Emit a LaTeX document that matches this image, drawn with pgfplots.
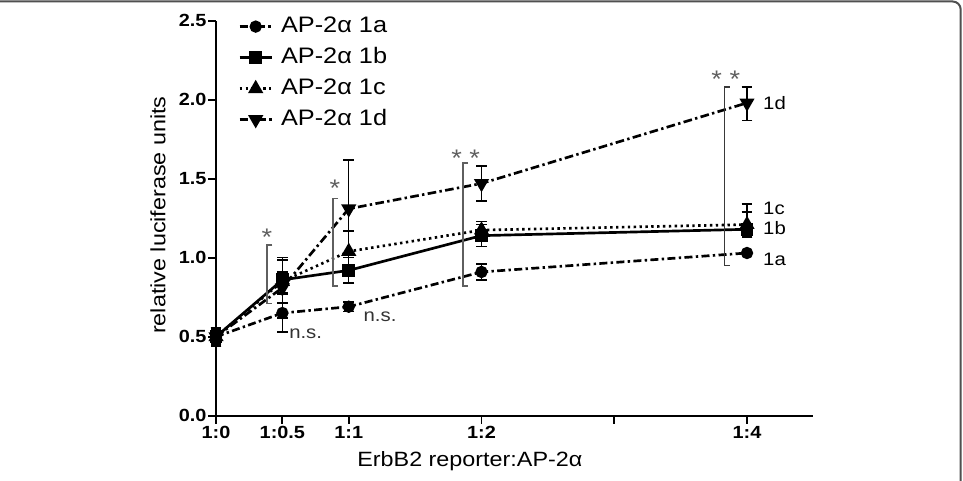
\documentclass[border=0pt]{standalone}
\usepackage{fontspec}
\setmainfont{Liberation Sans}[FakeStretch=1.13]
\usepackage{pgfplots}
\usepackage{pgfplotstable}
\pgfplotsset{compat=1.18}
\definecolor{annot}{RGB}{95,95,95}
\definecolor{frame}{RGB}{80,80,80}

\pgfplotstableread{
x y ep em
0 0.50 0.06 0.06
0.5 0.65 0.12 0.12
1 0.69 0.03 0.03
2 0.91 0.05 0.05
4 1.03 0.01 0.01
}\dataA
\pgfplotstableread{
x y ep em
0 0.50 0.05 0.05
0.5 0.86 0.05 0.08
1 0.92 0.08 0.08
2 1.14 0.07 0.07
4 1.18 0.11 0.05
}\dataB
\pgfplotstableread{
x y ep em
0 0.50 0.04 0.04
0.5 0.85 0.135 0.135
1 1.04 0.13 0.13
2 1.175 0.055 0.055
4 1.21 0.13 0.08
}\dataC
\pgfplotstableread{
x y ep em
0 0.50 0.06 0.06
0.5 0.81 0.19 0.19
1 1.31 0.31 0.31
2 1.47 0.11 0.11
4 1.98 0.10 0.11
}\dataD

\begin{document}
\begin{tikzpicture}
\path[use as bounding box] (0,0) rectangle (722.25pt,-360pt);
\begin{axis}[
  anchor=origin, at={(162pt,-311.8pt)},
  x=99.5625pt, y=118.5pt,
  xmin=0, xmax=4.5, ymin=0, ymax=2.5,
  enlargelimits=false,
  axis lines=left,
  axis line style={line width=1.4pt, -},
  every tick/.style={line width=1.4pt, black},
  tick align=outside,
  major tick length=6pt,
  xtick={0,0.5,1,2,3,4},
  xticklabels={1:0,1:0.5,1:1,1:2,,1:4},
  ytick={0,0.5,1,1.5,2,2.5},
  /pgf/number format/fixed, /pgf/number format/fixed zerofill,
  /pgf/number format/precision=1, /pgf/number format/assume math mode=true,
  ticklabel style={font=\fontsize{13.2pt}{15pt}\selectfont\bfseries},
  xticklabel style={inner sep=2pt},
  yticklabel style={inner sep=1pt},
  xlabel={ErbB2 reporter:AP-2α},
  ylabel={relative luciferase units},
  label style={font=\fontsize{15.5pt}{18pt}\selectfont},
  xlabel style={at={(axis description cs:0.425,-0.115)}, anchor=center},
  ylabel style={at={(axis description cs:-0.097,0.508)}, anchor=center},
  legend style={at={(rel axis cs:0.037,1.012)}, anchor=north west, draw=none, fill=none,
    font=\fontsize{16.8pt}{19pt}\selectfont, row sep=7.75pt, inner sep=0pt,
    nodes={inner sep=0pt, text height=12pt, text depth=3.5pt},
    /tikz/every odd column/.append style={column sep=6pt}},
  legend cell align=left,
  legend image code/.code={
    \draw[mark repeat=2, mark phase=2] plot coordinates {(0pt,0pt) (12pt,0pt) (24pt,0pt)};
  },
  error bars/y dir=both,
  error bars/y explicit,
  error bars/error bar style={line width=1.1pt, solid, black},
  error bars/error mark options={rotate=90, mark size=4pt, line width=1.1pt, solid, black},
  clip=false,
]
\addplot[black, line width=2pt, dash pattern=on 6pt off 2.5pt on 1.8pt off 2.5pt,
  mark=*, mark size=3.6pt, mark options={solid}]
  table[x=x, y=y, y error plus=ep, y error minus=em]{\dataA};
\addlegendentry{AP-2α 1a}
\addplot[black, line width=2pt, solid,
  mark=square*, mark size=3.8pt, mark options={solid}]
  table[x=x, y=y, y error plus=ep, y error minus=em]{\dataB};
\addlegendentry{AP-2α 1b}
\addplot[black, line width=2pt, dash pattern=on 1.8pt off 2.6pt,
  mark=triangle*, mark size=4.6pt, mark options={solid}]
  table[x=x, y=y, y error plus=ep, y error minus=em]{\dataC};
\addlegendentry{AP-2α 1c}
\addplot[black, line width=2pt, dash pattern=on 6.5pt off 2.5pt on 1.8pt off 2.5pt,
  mark=triangle*, mark size=4.6pt, mark options={solid, rotate=180}]
  table[x=x, y=y, y error plus=ep, y error minus=em]{\dataD};
\addlegendentry{AP-2α 1d}

% significance brackets
\draw[annot, line width=1.1pt] (axis cs:0.425,1.08) -- (axis cs:0.384,1.08) -- (axis cs:0.384,0.71) -- (axis cs:0.425,0.71);
\draw[annot, line width=1.1pt] (axis cs:0.92,1.376) -- (axis cs:0.88,1.376) -- (axis cs:0.88,0.82) -- (axis cs:0.92,0.82);
\draw[annot, line width=1.1pt] (axis cs:1.90,1.60) -- (axis cs:1.86,1.60) -- (axis cs:1.86,0.82) -- (axis cs:1.90,0.82);
\draw[annot!60!black, line width=1.1pt] (axis cs:3.87,2.08) -- (axis cs:3.83,2.08) -- (axis cs:3.83,0.95) -- (axis cs:3.87,0.95);
\begin{scope}[every node/.style={text=annot, font=\fontsize{18pt}{20pt}\selectfont, inner sep=0pt}]
\node at (axis cs:0.384,1.13) {*};
\node at (axis cs:0.895,1.44) {*};
\node at (axis cs:1.88,1.63) {* *};
\node at (axis cs:3.84,2.13) {* *};
\end{scope}
\begin{scope}[every node/.style={font=\fontsize{13.5pt}{16pt}\selectfont, inner sep=0pt, anchor=west}]
\node[text=black!80] at (axis cs:0.55,0.52) {n.s.};
\node[text=black!80] at (axis cs:1.11,0.625) {n.s.};
\node at (axis cs:4.12,1.98) {1d};
\node at (axis cs:4.12,1.31) {1c};
\node at (axis cs:4.12,1.19) {1b};
\node at (axis cs:4.12,0.99) {1a};
\end{scope}
\end{axis}
\draw[frame, line width=1.5pt, rounded corners=6pt] (-10pt,-1.1pt) -- (720.5pt,-1.1pt) -- (720.5pt,-370pt);
\end{tikzpicture}
\end{document}
